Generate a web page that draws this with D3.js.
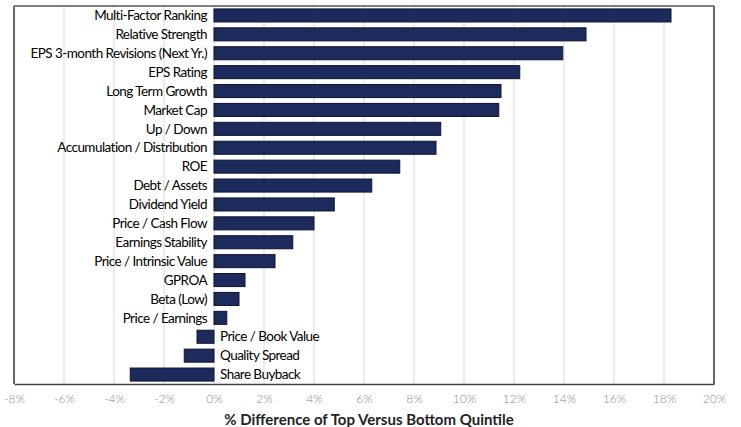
<!DOCTYPE html>
<html><head><meta charset="utf-8">
<script src="https://cdn.jsdelivr.net/npm/d3@7"></script>
<style>body{margin:0;background:#fff;} text{font-family:Lato,"Open Sans",sans-serif;}</style>
</head><body><svg id="c" width="741" height="427"></svg>
<script>
const categories = ["Multi-Factor Ranking","Relative Strength","EPS 3-month Revisions (Next Yr.)","EPS Rating","Long Term Growth","Market Cap","Up / Down","Accumulation / Distribution","ROE","Debt / Assets","Dividend Yield","Price / Cash Flow","Earnings Stability","Price / Intrinsic Value","GPROA","Beta (Low)","Price / Earnings","Price / Book Value","Quality Spread","Share Buyback"];
const values = [18.28,14.88,13.95,12.23,11.48,11.39,9.07,8.88,7.43,6.31,4.81,4.0,3.15,2.44,1.24,1.0,0.51,-0.68,-1.19,-3.35];
const tickValues = [-8,-6,-4,-2,0,2,4,6,8,10,12,14,16,18,20];
const axisTitle = "% Difference of Top Versus Bottom Quintile";

const svg = d3.select("#c");
const L=14, R=714, T=6, B=384;
const x = d3.scaleLinear().domain([-8,20]).range([L,R]);
const y = d3.scaleBand().domain(categories).range([T,B]).paddingInner(0.31).paddingOuter(0.155);

// gridlines
svg.append("g").selectAll("line").data(tickValues.filter(d=>d>-8&&d<20)).join("line")
  .attr("x1",d=>x(d)).attr("x2",d=>x(d)).attr("y1",T).attr("y2",B)
  .attr("stroke","#d9d9d9").attr("stroke-width",1);

// bars
const data = categories.map((c,i)=>({c,v:values[i]}));
svg.append("g").selectAll("rect").data(data).join("rect")
  .attr("x",d=>x(Math.min(0,d.v))).attr("width",d=>Math.abs(x(d.v)-x(0)))
  .attr("y",d=>y(d.c)).attr("height",y.bandwidth())
  .attr("fill","#1d2b5c").attr("stroke","#0d1430").attr("stroke-width",1);

// category labels
svg.append("g").selectAll("text").data(data).join("text")
  .attr("x",d=>d.v>=0? x(0)-7 : x(0)+6)
  .attr("y",d=>y(d.c)+y.bandwidth()/2)
  .attr("dy","0.35em")
  .attr("text-anchor",d=>d.v>=0?"end":"start")
  .attr("font-size",13.5).attr("fill","#000").attr("letter-spacing","-0.55")
  .text(d=>d.c);

// frame
svg.append("line").attr("x1",L).attr("x2",R).attr("y1",T).attr("y2",T).attr("stroke","#000").attr("stroke-width",1);
svg.append("line").attr("x1",L).attr("x2",L).attr("y1",T).attr("y2",B).attr("stroke","#666").attr("stroke-width",2);
svg.append("line").attr("x1",R).attr("x2",R).attr("y1",T).attr("y2",B).attr("stroke","#666").attr("stroke-width",2);

// x axis
const ax = svg.append("g").attr("transform",`translate(0,${B})`)
  .call(d3.axisBottom(x).tickValues(tickValues).tickFormat(d=>d+"%").tickSize(0).tickPadding(10));
ax.select(".domain").attr("stroke","#444").attr("stroke-width",1.5);
ax.selectAll("text").attr("font-size",12).attr("fill","#8c8c8c").attr("font-weight",300).style("font-family","Lato,sans-serif");

svg.append("text").attr("x",x(6)+5).attr("y",420).attr("dy","0.35em").attr("text-anchor","middle")
  .attr("font-size",15).attr("font-weight","bold").attr("fill","#222").text(axisTitle);
</script></body></html>
